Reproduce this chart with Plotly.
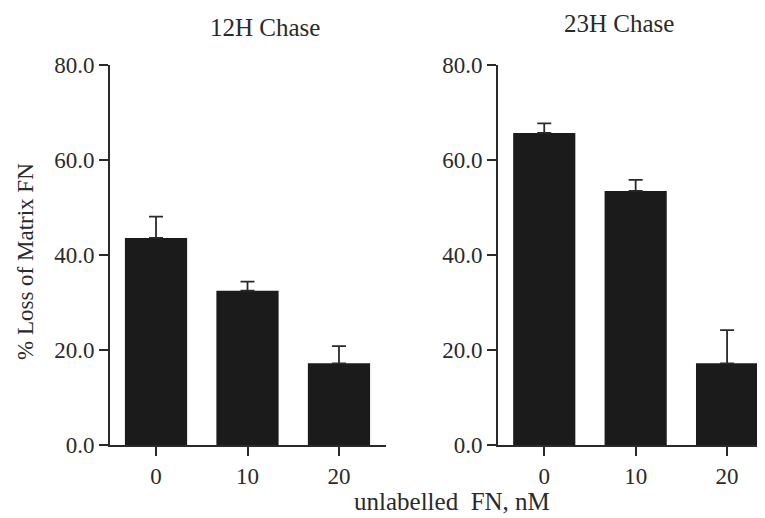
import plotly.graph_objects as go

categories = ["0", "10", "20"]
chase12_values = [43.6, 32.5, 17.2]
chase12_err = [4.5, 1.9, 3.6]
chase23_values = [65.7, 53.5, 17.2]
chase23_err = [2.0, 2.3, 7.0]
y_ticks = [0, 20, 40, 60, 80]
y_tick_labels = ["0.0", "20.0", "40.0", "60.0", "80.0"]

W, H = 765, 518
OFF = 8  # page body margin offset
FONT = "Liberation Serif, Times New Roman, serif"
INK = "#2a2a2a"
BAR = "#1b1b1b"

def px(x):
    return (x - OFF) / W

def py(y):
    return 1 - (y - OFF) / H

xpos = list(range(len(categories)))

fig = go.Figure()
for vals, errs, xa, ya in [
    (chase12_values, chase12_err, "x", "y"),
    (chase23_values, chase23_err, "x2", "y2"),
]:
    fig.add_trace(go.Bar(
        x=xpos, y=vals, width=0.68,
        marker=dict(color=BAR, line=dict(color=BAR, width=0)),
        error_y=dict(type="data", array=errs, arrayminus=[0] * len(errs),
                     symmetric=False, color=INK, thickness=1.8, width=7),
        xaxis=xa, yaxis=ya, showlegend=False,
    ))

ydom = [py(445), py(65)]
common_x = dict(
    tickmode="array", tickvals=xpos, ticktext=categories,
    ticks="outside", ticklen=9, tickwidth=2, tickcolor=INK,
    showline=True, linecolor=INK, linewidth=2,
    showgrid=False, zeroline=False, automargin=False,
    tickfont=dict(family=FONT, size=23, color=INK),
)
common_y = dict(
    range=[0, 80], tickmode="array", tickvals=y_ticks, ticktext=y_tick_labels,
    ticks="outside", ticklen=9, tickwidth=2, tickcolor=INK,
    showline=True, linecolor=INK, linewidth=2,
    showgrid=False, zeroline=False, domain=ydom, automargin=False,
    tickfont=dict(family=FONT, size=23, color=INK),
)

fig.update_layout(
    width=W, height=H,
    margin=dict(l=0, r=0, t=0, b=0, autoexpand=False),
    paper_bgcolor="white", plot_bgcolor="white",
    xaxis=dict(common_x, domain=[px(110), px(386)], range=[-0.503, 2.514], anchor="y"),
    yaxis=dict(common_y, anchor="x"),
    xaxis2=dict(common_x, domain=[px(498), px(765)], range=[-0.506, 2.415], anchor="y2"),
    yaxis2=dict(common_y, anchor="x2"),
    annotations=[
        dict(text="12H Chase", x=px(265), y=py(27), xref="paper", yref="paper",
             showarrow=False, xanchor="center", yanchor="middle",
             font=dict(family=FONT, size=25, color=INK)),
        dict(text="23H Chase", x=px(619), y=py(23), xref="paper", yref="paper",
             showarrow=False, xanchor="center", yanchor="middle",
             font=dict(family=FONT, size=25, color=INK)),
        dict(text="% Loss of Matrix FN", x=px(25), y=py(262), xref="paper", yref="paper",
             showarrow=False, xanchor="center", yanchor="middle", textangle=-90,
             font=dict(family=FONT, size=23, color=INK)),
        dict(text="unlabelled&nbsp; FN, nM", x=px(452), y=py(517), xref="paper", yref="paper",
             showarrow=False, xanchor="center", yanchor="bottom",
             font=dict(family=FONT, size=25, color=INK)),
    ],
)

fig.write_html("out.html")
